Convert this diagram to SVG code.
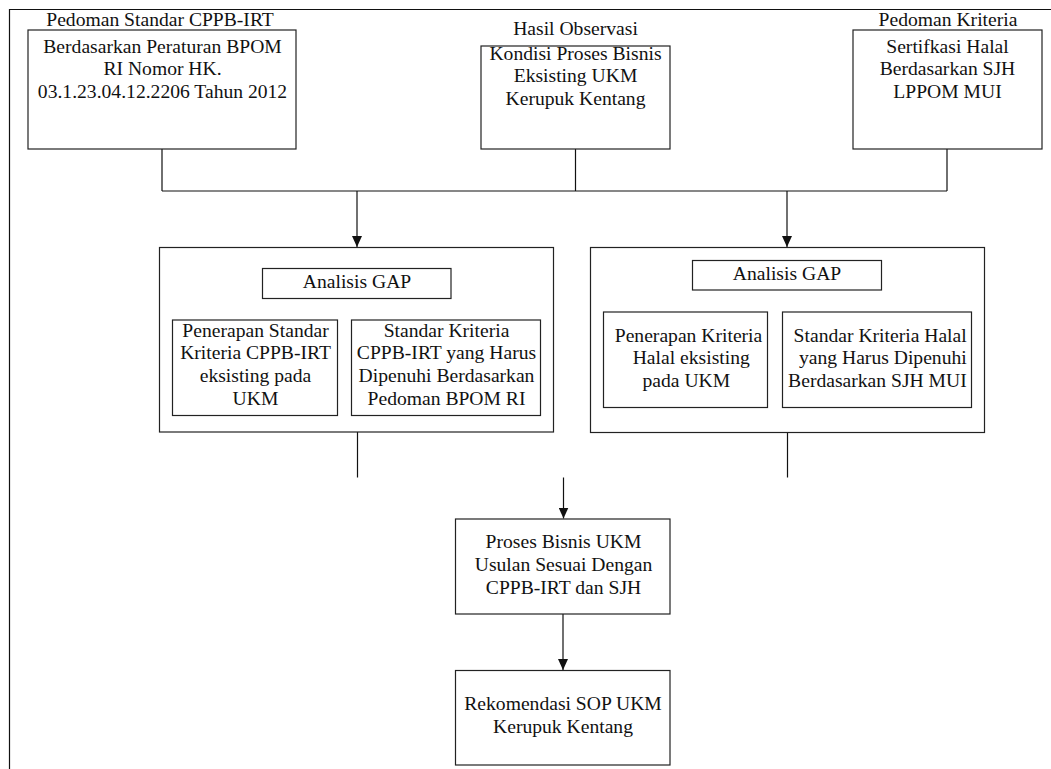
<svg xmlns="http://www.w3.org/2000/svg" width="1051" height="769" viewBox="0 0 1051 769">
<style>
.bx{fill:#fff;stroke:#222;stroke-width:1.2}
.ln{fill:none;stroke:#111;stroke-width:1.2}
.t{font-family:"Liberation Serif","Times New Roman",serif;font-size:18px;fill:#111}
</style>
<defs>
<marker id="ah" markerWidth="12" markerHeight="10" refX="11" refY="5" orient="auto" markerUnits="userSpaceOnUse" viewBox="0 0 12 10">
<path d="M0,0 L11,5 L0,10 Z" fill="#111"/>
</marker>
</defs>
<rect width="1051" height="769" fill="#fff"/>
<g id="frame">
<path class="ln" d="M9.5,769 V9.5 H1051"/>
</g>
<g id="connectors">
<path class="ln" d="M162,149 V191 M575.5,149 V191 M947,149 V191 M162,191 H947"/>
<path class="ln" d="M357,191 V247" marker-end="url(#ah)"/>
<path class="ln" d="M787,191 V247" marker-end="url(#ah)"/>
<path class="ln" d="M357.5,432 V477.5"/>
<path class="ln" d="M787.5,432.5 V477.5"/>
<path class="ln" d="M563.5,477.5 V518.5" marker-end="url(#ah)"/>
<path class="ln" d="M563,614 V670" marker-end="url(#ah)"/>
</g>
<g id="node-cppb">
<text class="t" text-anchor="middle" transform="translate(160,0) scale(1.09,1)"><tspan x="0" y="25.7">Pedoman Standar CPPB-IRT</tspan></text>
<rect class="bx" x="28" y="30" width="268" height="119"/>
<text class="t" text-anchor="middle" transform="translate(162.5,0) scale(1.09,1)"><tspan x="0" y="52.7">Berdasarkan Peraturan BPOM</tspan><tspan x="0" y="75.2">RI Nomor HK.</tspan><tspan x="0" y="97.7">03.1.23.04.12.2206 Tahun 2012</tspan></text>
</g>
<g id="node-observasi">
<text class="t" text-anchor="middle" transform="translate(575.5,0) scale(1.09,1)"><tspan x="0" y="35">Hasil Observasi</tspan></text>
<rect class="bx" x="481" y="46" width="189" height="103"/>
<text class="t" text-anchor="middle" transform="translate(575.5,0) scale(1.09,1)"><tspan x="0" y="60">Kondisi Proses Bisnis</tspan><tspan x="0" y="82.5">Eksisting UKM</tspan><tspan x="0" y="105">Kerupuk Kentang</tspan></text>
</g>
<g id="node-halal">
<text class="t" text-anchor="middle" transform="translate(948,0) scale(1.09,1)"><tspan x="0" y="25.7">Pedoman Kriteria</tspan></text>
<rect class="bx" x="853" y="30" width="189" height="119"/>
<text class="t" text-anchor="middle" transform="translate(947.5,0) scale(1.09,1)"><tspan x="0" y="52.7">Sertifkasi Halal</tspan><tspan x="0" y="75.2">Berdasarkan SJH</tspan><tspan x="0" y="97.7">LPPOM MUI</tspan></text>
</g>
<g id="node-gap-cppb">
<rect class="bx" x="159.5" y="247.5" width="394" height="184.5"/>
<rect class="bx" x="262.5" y="268.5" width="188.5" height="30"/>
<text class="t" text-anchor="middle" transform="translate(357,0) scale(1.09,1)"><tspan x="0" y="287.7">Analisis GAP</tspan></text>
<rect class="bx" x="172.5" y="320" width="165" height="95.5"/>
<text class="t" text-anchor="middle" transform="translate(255.5,0) scale(1.09,1)"><tspan x="0" y="336.7">Penerapan Standar</tspan><tspan x="0" y="359.5">Kriteria CPPB-IRT</tspan><tspan x="0" y="382.3">eksisting pada</tspan><tspan x="0" y="405">UKM</tspan></text>
<rect class="bx" x="351.5" y="320" width="189" height="95.5"/>
<text class="t" text-anchor="middle" transform="translate(446.5,0) scale(1.09,1)"><tspan x="0" y="336.7">Standar Kriteria</tspan><tspan x="0" y="359.5">CPPB-IRT yang Harus</tspan><tspan x="0" y="382.3">Dipenuhi Berdasarkan</tspan><tspan x="0" y="405">Pedoman BPOM RI</tspan></text>
</g>
<g id="node-gap-halal">
<rect class="bx" x="590.5" y="247.5" width="394" height="185"/>
<rect class="bx" x="692.5" y="260.5" width="189" height="29.5"/>
<text class="t" text-anchor="middle" transform="translate(787,0) scale(1.09,1)"><tspan x="0" y="280">Analisis GAP</tspan></text>
<rect class="bx" x="603.5" y="312" width="164" height="95.5"/>
<text class="t" text-anchor="middle" transform="translate(688.5,0) scale(1.09,1)"><tspan x="0" y="341.7">Penerapan Kriteria</tspan><tspan x="2.5" y="364.5">Halal eksisting</tspan><tspan x="-2" y="387.5">pada UKM</tspan></text>
<rect class="bx" x="782.5" y="312" width="189" height="95.5"/>
<text class="t" text-anchor="end" transform="translate(966.7,0) scale(1.09,1)"><tspan x="0" y="341.7">Standar Kriteria Halal</tspan><tspan x="0" y="364.5">yang Harus Dipenuhi</tspan><tspan x="0" y="387.5">Berdasarkan SJH MUI</tspan></text>
</g>
<g id="node-proses">
<rect class="bx" x="455.5" y="519" width="214.5" height="95"/>
<text class="t" text-anchor="middle" transform="translate(563.5,0) scale(1.09,1)"><tspan x="0" y="548.3">Proses Bisnis UKM</tspan><tspan x="0" y="571.3">Usulan Sesuai Dengan</tspan><tspan x="0" y="594">CPPB-IRT dan SJH</tspan></text>
</g>
<g id="node-sop">
<rect class="bx" x="455.5" y="670.5" width="214.5" height="94.5"/>
<text class="t" text-anchor="middle" transform="translate(563,0) scale(1.09,1)"><tspan x="0" y="710">Rekomendasi SOP UKM</tspan><tspan x="0" y="733.3">Kerupuk Kentang</tspan></text>
</g>
</svg>
